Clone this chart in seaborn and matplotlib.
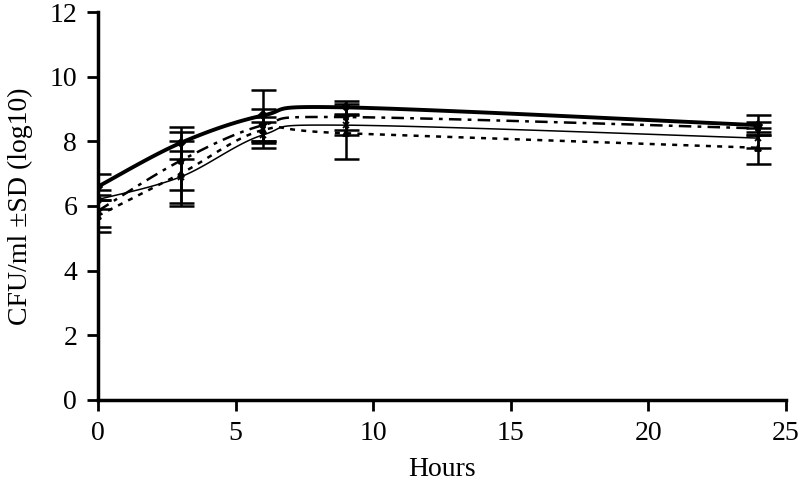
import numpy as np
import pandas as pd
import matplotlib
matplotlib.use("Agg")
import matplotlib.pyplot as plt
import seaborn as sns

hours = [0, 3, 6, 9, 24]
series_names = ["A", "B", "C", "D"]
mean_a = [6.6, 7.95, 8.8, 9.05, 8.5]
mean_b = [6.2, 6.9, 8.2, 8.5, 8.1]
mean_c = [5.85, 7.4, 8.5, 8.75, 8.4]
mean_d = [5.7, 7.0, 8.35, 8.25, 7.8]
sd_a = [0.4, 0.5, 0.8, 0.2, 0.3]
sd_b = [0.3, 0.8, 0.4, 0.3, 0.3]
sd_c = [0.5, 0.9, 0.5, 0.4, 0.2]
sd_d = [0.5, 1.0, 0.4, 0.8, 0.5]

sns.set_style("ticks")
plt.rcParams['font.family'] = ['Liberation Serif', 'DejaVu Serif']
plt.rcParams['text.color'] = 'black'
plt.rcParams['axes.labelcolor'] = 'black'
plt.rcParams['xtick.color'] = 'black'
plt.rcParams['ytick.color'] = 'black'

fig = plt.figure(figsize=(8, 4.9), dpi=100)
ax = fig.add_axes([0.1225, 0.1837, 0.86, 0.7918])


def smooth(x, y, n=30):
    # Catmull-Rom style smoothing as in spreadsheet "smoothed line"
    x = np.asarray(x, float)
    y = np.asarray(y, float)
    px = np.concatenate([[x[0]], x, [x[-1]]])
    py = np.concatenate([[y[0]], y, [y[-1]]])
    xs, ys = [], []
    for i in range(1, len(px) - 2):
        p0x, p1x, p2x, p3x = px[i - 1], px[i], px[i + 1], px[i + 2]
        p0y, p1y, p2y, p3y = py[i - 1], py[i], py[i + 1], py[i + 2]
        c1x = p1x + (p2x - p0x) / 6
        c1y = p1y + (p2y - p0y) / 6
        c2x = p2x - (p3x - p1x) / 6
        c2y = p2y - (p3y - p1y) / 6
        t = np.linspace(0, 1, n)
        bx = (1 - t) ** 3 * p1x + 3 * (1 - t) ** 2 * t * c1x + 3 * (1 - t) * t ** 2 * c2x + t ** 3 * p2x
        by = (1 - t) ** 3 * p1y + 3 * (1 - t) ** 2 * t * c1y + 3 * (1 - t) * t ** 2 * c2y + t ** 3 * p2y
        xs.append(bx)
        ys.append(by)
    return np.concatenate(xs), np.concatenate(ys)


means = [mean_a, mean_b, mean_c, mean_d]
sds = [sd_a, sd_b, sd_c, sd_d]
styles = [
    dict(lw=2.8, ls="-", marker="D", ms=4),
    dict(lw=1.1, ls="-", marker="x", ms=5),
    dict(lw=1.8, ls=(0, (5, 2.5, 1.5, 2.5)), marker="*", ms=6),
    dict(lw=1.8, ls=(0, (2, 2.5)), marker="^", ms=5),
]

for name, m, s, st in zip(series_names, means, sds, styles):
    sx, sy = smooth(hours, m)
    df = pd.DataFrame({"Hours": sx, "val": sy})
    sns.lineplot(data=df, x="Hours", y="val", ax=ax, sort=False, color="black",
                 lw=st["lw"], linestyle=st["ls"], estimator=None)
    ax.errorbar(hours, m, yerr=s, fmt="none", ecolor="black", elinewidth=1.8,
                capsize=9, capthick=1.8)
    ax.plot(hours, m, ls="none", marker=st["marker"], ms=st["ms"], color="black",
            mew=1.3)

ax.set_xlim(0, 25)
ax.set_ylim(0, 12)
ax.set_xticks([0, 5, 10, 15, 20, 25])
ax.set_yticks([0, 2, 4, 6, 8, 10, 12])
ax.set_xlabel("Hours", fontsize=20, labelpad=8)
ax.set_ylabel("CFU/ml ±SD (log10)", fontsize=20, labelpad=12)
ax.tick_params(axis="both", labelsize=20, width=2, length=8, direction="out",
               color="black", labelcolor="black", pad=7)
for sp in ["left", "bottom"]:
    ax.spines[sp].set_linewidth(2.5)
    ax.spines[sp].set_color("black")
for sp in ["top", "right"]:
    ax.spines[sp].set_visible(False)

fig.savefig("out.png", dpi=100)
